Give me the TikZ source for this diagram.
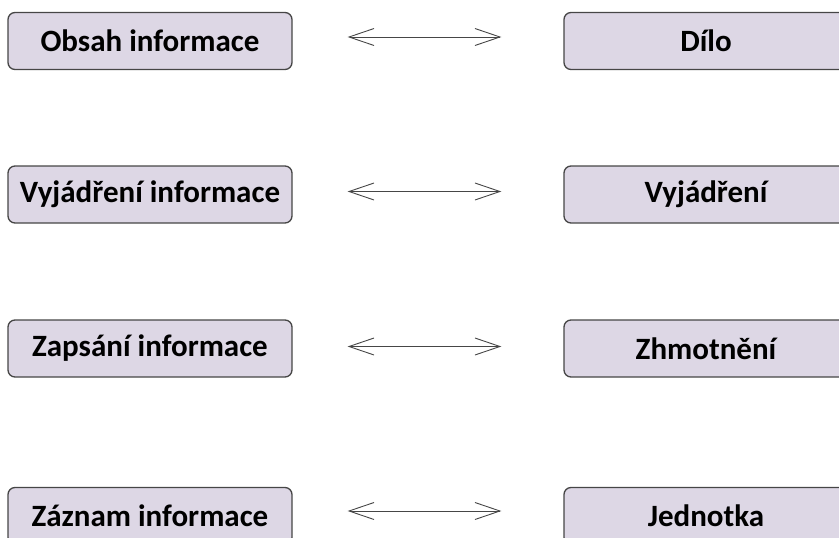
\documentclass[tikz,border=0pt]{standalone}
\usepackage{fontspec}
\setmainfont{Carlito}
\usetikzlibrary{arrows.meta}
\definecolor{boxfill}{RGB}{221,215,229}
\definecolor{boxline}{RGB}{70,70,70}
\tikzset{
	pojem/.style={draw=boxline, line width=1.3pt, fill=boxfill, rounded corners=7pt,
		minimum width=284pt, minimum height=57pt, inner sep=0pt,
		font=\fontsize{31}{36}\selectfont\bfseries},
	vztah/.style={draw=boxline, line width=0.9pt,
		{Straight Barb[length=25pt,width=17pt]}-{Straight Barb[length=25pt,width=17pt]}}
}
\begin{document}
\begin{tikzpicture}[x=1pt,y=-1pt]

		\useasboundingbox (0,0) rectangle (839,538);

		\node[pojem] (obsah) at (150,41){Obsah informace};
		\node[pojem] (dilo) at (706,41){Dílo};

		\node[pojem] (vyjinf) at (150,194.5){Vyjádření informace};
		\node[pojem] (vyj) at (706,194.5){Vyjádření};

		\node[pojem] (zapsani) at (150,348.5){Zapsání informace};
		\node[pojem] (zhmot) at (706,348.5){Zhmotnění};

		\node[pojem] (zaznam) at (150,516){Záznam informace};
		\node[pojem] (jedn) at (706,516){Jednotka};

		\draw[vztah, shorten <=55pt, shorten >=62pt] ([yshift=4pt]obsah.east) -- ([yshift=4pt]dilo.west);
		\draw[vztah, shorten <=55pt, shorten >=62pt] ([yshift=3pt]vyjinf.east) -- ([yshift=3pt]vyj.west);
		\draw[vztah, shorten <=55pt, shorten >=62pt] ([yshift=2pt]zapsani.east) -- ([yshift=2pt]zhmot.west);
		\draw[vztah, shorten <=55pt, shorten >=62pt] ([yshift=5pt]zaznam.east) -- ([yshift=5pt]jedn.west);
	\end{tikzpicture}
\end{document}
